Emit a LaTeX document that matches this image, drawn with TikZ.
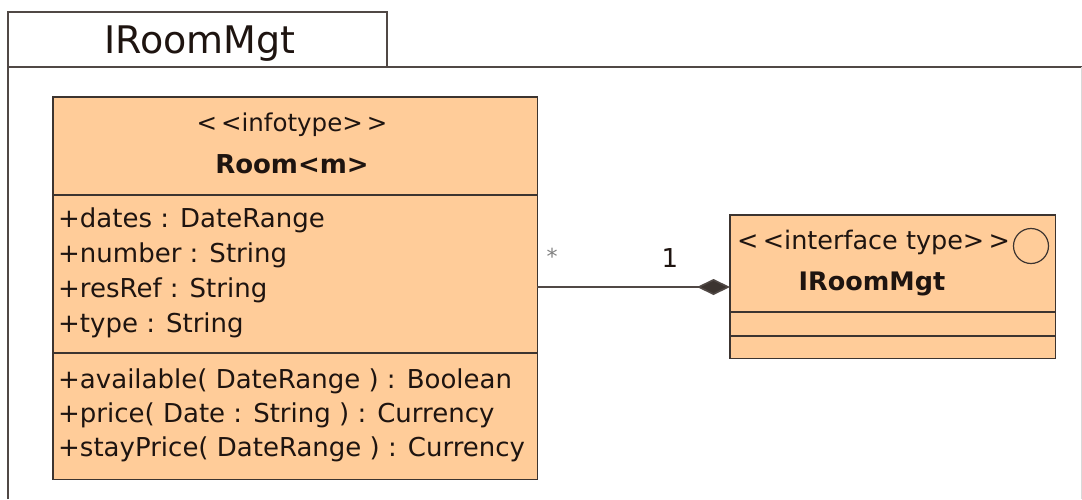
\documentclass[tikz,border=0pt]{standalone}
\usepackage{fontspec}
\setmainfont{DejaVu Sans}
\usetikzlibrary{arrows.meta}
\definecolor{umlfill}{HTML}{FFCC99}
\definecolor{umlline}{HTML}{3C3430}
\definecolor{umltext}{HTML}{1E1410}
\tikzset{
  txt/.style={inner sep=0pt, anchor=base west, text=umltext, font=\fontsize{26}{26}\selectfont},
  ctxt/.style={inner sep=0pt, anchor=base, text=umltext},
  boxline/.style={draw=umlline, line width=1.6pt},
  frameline/.style={draw=umlline!90, line width=1.6pt},
}
\begin{document}
\begin{tikzpicture}[x=1pt,y=-1pt]
\useasboundingbox (0,0) rectangle (1082,499);
% package frame
\draw[frameline] (8,67) rectangle (387,12);
\draw[frameline] (8,499) -- (8,67) -- (1082,67);
\draw[draw=gray!30, line width=1pt] (1081,67) -- (1081,499);
\node[ctxt, font=\fontsize{38}{38}\selectfont] (pkgname) at (200,53) {IRoomMgt};
% Room class
\path[fill=umlfill] (53,97) rectangle (537,479);
\node[inner sep=0pt, minimum width=484pt, minimum height=382pt, anchor=north west] (room) at (53,97) {};
\draw[boxline] (room.north west) rectangle (room.south east);
\draw[boxline] (53,195) -- (537,195);
\draw[boxline] (53,353) -- (537,353);
\node[ctxt, font=\fontsize{24.5}{24.5}\selectfont] (st1) at (292,131) {<\,<infotype>\,>};
\node[ctxt, font=\fontsize{26}{26}\selectfont\bfseries] (rname) at (292,173) {Room<m>};
\node[txt] (a1) at (58,227) {+dates : DateRange};
\node[txt] (a2) at (58,262) {+number : String};
\node[txt] (a3) at (58,297) {+resRef : String};
\node[txt] (a4) at (58,332) {+type : String};
\node[txt] (m1) at (58,388) {+available( DateRange ) : Boolean};
\node[txt] (m2) at (58,422) {+price( Date : String ) : Currency};
\node[txt] (m3) at (58,456) {+stayPrice( DateRange ) : Currency};
% Interface class
\path[fill=umlfill] (730,215) rectangle (1055,358);
\node[inner sep=0pt, minimum width=325pt, minimum height=143pt, anchor=north west] (iface) at (730,215) {};
\draw[boxline] (iface.north west) rectangle (iface.south east);
\draw[boxline] (730,312) -- (1055,312);
\draw[boxline] (730,336) -- (1055,336);
\node[txt, font=\fontsize{25.5}{25.5}\selectfont] (st2) at (737,249) {<\,<interface type>\,>};
\node[draw=umlline, line width=1.2pt, circle, minimum size=35pt, inner sep=0pt] (icon) at (1031,246) {};
\node[ctxt, font=\fontsize{25.5}{25.5}\selectfont\bfseries] (iname) at (872,290) {IRoomMgt};
% association (composition)
\coordinate (rs) at (537,287);
\coordinate (ie) at (730,287);
\draw[draw=umlline!90, line width=1.6pt, {}-{Diamond[length=33pt,width=16pt,fill=umlline]}] (rs) -- (ie);
\node[ctxt, font=\fontsize{22}{22}\selectfont, text=gray] (mstar) at (552,264) {*};
\node[ctxt, font=\fontsize{26}{26}\selectfont] (mone) at (670,267) {1};
\end{tikzpicture}
\end{document}
